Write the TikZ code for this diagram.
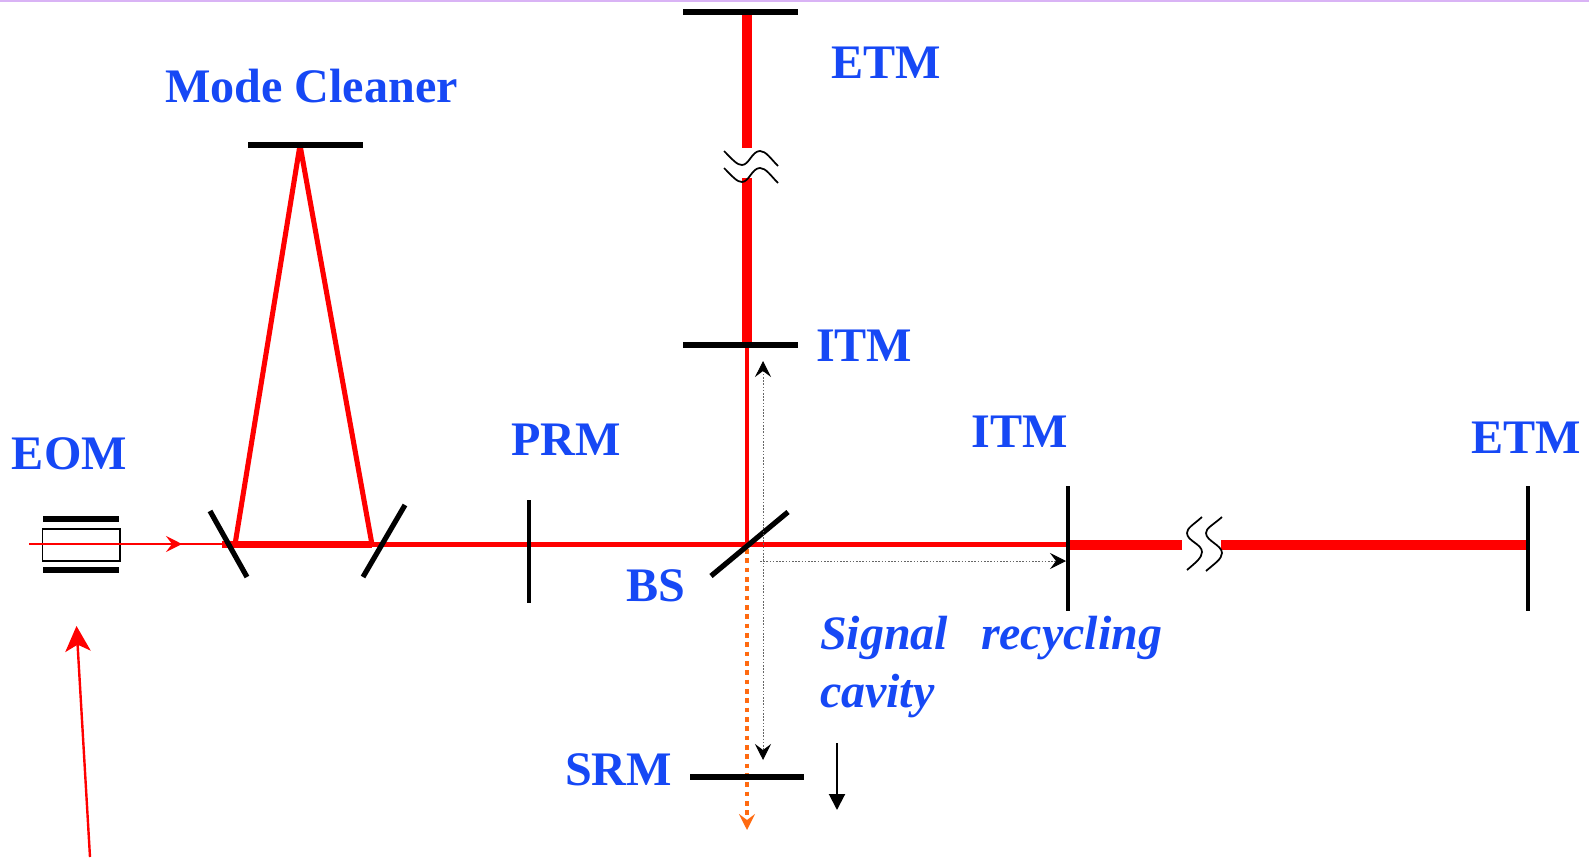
\documentclass[tikz,border=0pt]{standalone}
\usepackage{fontspec}
\setmainfont{Liberation Serif}
\usetikzlibrary{arrows.meta}
\definecolor{labelblue}{HTML}{1648F5}
\definecolor{beamred}{HTML}{FF0000}
\definecolor{outorange}{HTML}{FF6A10}
\definecolor{topline}{HTML}{D9B3F5}
\tikzset{
 x=0.75pt,y=-0.75pt,
 lab/.style={anchor=base west,inner sep=0pt,outer sep=0pt,text=labelblue,font=\fontsize{36.1}{36}\selectfont\bfseries},
 labit/.style={lab,font=\fontsize{36}{36}\selectfont\bfseries\itshape},
 mirror/.style={draw=black,line width=3.9pt},
 vmirror/.style={draw=black,line width=3.2pt},
 beam/.style={draw=beamred,line width=#1},
 wave/.style={draw=black,line width=1.3pt},
 dots/.style={draw=black!60,line width=0.7pt,dash pattern=on 1.2pt off 1.2pt},
 blacktip/.tip={Stealth[length=12pt,width=12pt,inset=4.5pt,color=black]},
 orangetip/.tip={Stealth[length=12pt,width=12pt,inset=4.5pt,color=outorange]},
}
\begin{document}
\begin{tikzpicture}
\useasboundingbox (0,0) rectangle (1589,857);
\fill[topline] (0,0) rectangle (1589,1.5);
% coordinates
\coordinate (etmTa) at (683,12); \coordinate (etmTb) at (798,12);
\coordinate (itmTa) at (683,345); \coordinate (itmTb) at (798,345);
\coordinate (beamT) at (747,12); \coordinate (breakTa) at (747,148); \coordinate (breakTb) at (747,178); \coordinate (itmT) at (747,345);
\coordinate (bs) at (747,544.5); \coordinate (bsa) at (711,576); \coordinate (bsb) at (788,512);
\coordinate (mcla) at (210,511); \coordinate (mclb) at (247,577);
\coordinate (mcra) at (363,577); \coordinate (mcrb) at (405,505);
\coordinate (mcta) at (248,145); \coordinate (mctb) at (363,145); \coordinate (mct) at (300,145);
\coordinate (mcl) at (235,544.5); \coordinate (mcr) at (372,544.5); \coordinate (mcs) at (222,544.5);
\coordinate (prma) at (529,500); \coordinate (prmb) at (529,603);
\coordinate (itmRa) at (1068,486); \coordinate (itmRb) at (1068,611); \coordinate (itmR) at (1068,544.5);
\coordinate (etmRa) at (1528,486); \coordinate (etmRb) at (1528,611); \coordinate (etmR) at (1528,544.5);
\coordinate (breakRa) at (1182,544.5); \coordinate (breakRb) at (1221,544.5);
\coordinate (in) at (29,544); \coordinate (inTip) at (182,544); \coordinate (inEnd) at (225,544);
\coordinate (srma) at (690,777); \coordinate (srmb) at (804,777);
\coordinate (outStart) at (747,549); \coordinate (outTip) at (747,830);
% beams
\draw[beam=7.5pt] (beamT) -- (breakTa) (breakTb) -- (itmT);
\draw[beam=3.2pt] (itmT) -- (bs);
\draw[beam=3.2pt] (mcr) -- (bs) -- (itmR);
\draw[beam=5pt] (mcs) -- (mcr);
\draw[beam=3.8pt,line join=bevel] (mcl) -- (mct) -- (mcr);
\draw[beam=7.5pt] (itmR) -- (breakRa) (breakRb) -- (etmR);
\draw[beam=1.5pt] (in) -- (inEnd);
\draw[beam=1.5pt,-{Stealth[length=12pt,width=12pt,inset=4.5pt]}] (in) -- (inTip);
% orange output
\draw[draw=outorange,line width=3.5pt,dash pattern=on 3.5pt off 3.5pt,-orangetip] (outStart) -- (outTip);
% mirrors
\draw[mirror] (etmTa) -- (etmTb);
\draw[mirror] (itmTa) -- (itmTb);
\draw[mirror] (mcla) -- (mclb);
\draw[mirror] (mcra) -- (mcrb);
\draw[mirror] (mcta) -- (mctb);
\draw[vmirror] (prma) -- (prmb);
\draw[mirror] (bsa) -- (bsb);
\draw[vmirror] (itmRa) -- (itmRb);
\draw[vmirror] (etmRa) -- (etmRb);
\draw[mirror] (srma) -- (srmb);
% break marks
\draw[wave] (724,151) .. controls (733,160) and (737,165) .. (742,165) .. controls (749,165) and (752,151) .. (760,151) .. controls (766,151) and (771,159) .. (778,166);
\draw[wave] (724,168) .. controls (733,177) and (737,182) .. (742,182) .. controls (749,182) and (752,168) .. (760,168) .. controls (766,168) and (771,176) .. (778,183);
\draw[wave] (1202,517) .. controls (1193,525) and (1187,528) .. (1187,533) .. controls (1187,541) and (1202,544) .. (1202,552) .. controls (1202,558) and (1195,563) .. (1187,570);
\draw[wave] (1222,517) .. controls (1213,525) and (1206,528) .. (1206,533) .. controls (1206,541) and (1222,545) .. (1222,553) .. controls (1222,559) and (1214,564) .. (1206,571);
% EOM
\coordinate (eomTa) at (43,519); \coordinate (eomTb) at (119,519);
\coordinate (eomBa) at (43,570); \coordinate (eomBb) at (119,570);
\draw[black,line width=3.9pt] (eomTa) -- (eomTb);
\draw[black,line width=3.9pt] (eomBa) -- (eomBb);
\draw[black,line width=1.2pt] (42.5,529) rectangle (120,561);
\draw[beam=1.5pt] (in) -- (inTip);
% dotted arrows
\coordinate (dvA) at (763,361); \coordinate (dvB) at (763,760);
\coordinate (dhA) at (760,561); \coordinate (dhB) at (1066,561);
\draw[dots,blacktip-blacktip] (dvA) -- (dvB);
\draw[dots,-blacktip] (dhA) -- (dhB);
% SRM motion arrow
\coordinate (smA) at (837,743); \coordinate (smB) at (837,810);
\draw[black,line width=1.5pt,-{Triangle[length=12pt,width=12pt]}] (smA) -- (smB);
% big red arrow
\coordinate (bigA) at (90,857); \coordinate (bigB) at (76.5,626);
\draw[beam=1.8pt,-{Stealth[length=19pt,width=19pt,inset=5pt]}] (bigA) -- (bigB);
% labels
\node[lab] (lmc) at (165,102) {Mode Cleaner};
\node[lab] (letmT) at (831,78) {ETM};
\node[lab] (litmT) at (816,361) {ITM};
\node[lab] (leom) at (12,469) {EOM};
\node[lab] (lprm) at (511.5,455) {PRM};
\node[lab] (litmR) at (971.5,447) {ITM};
\node[lab] (letmR) at (1471,453.5) {ETM};
\node[lab] (lbs) at (626,601.5) {BS};
\node[lab] (lsrm) at (565,785) {SRM};
\node[labit] (ls) at (820,649) {Signal};
\node[labit] (lr) at (981,649) {recycling};
\node[labit] (lc) at (820,707) {cavity};
\end{tikzpicture}
\end{document}
